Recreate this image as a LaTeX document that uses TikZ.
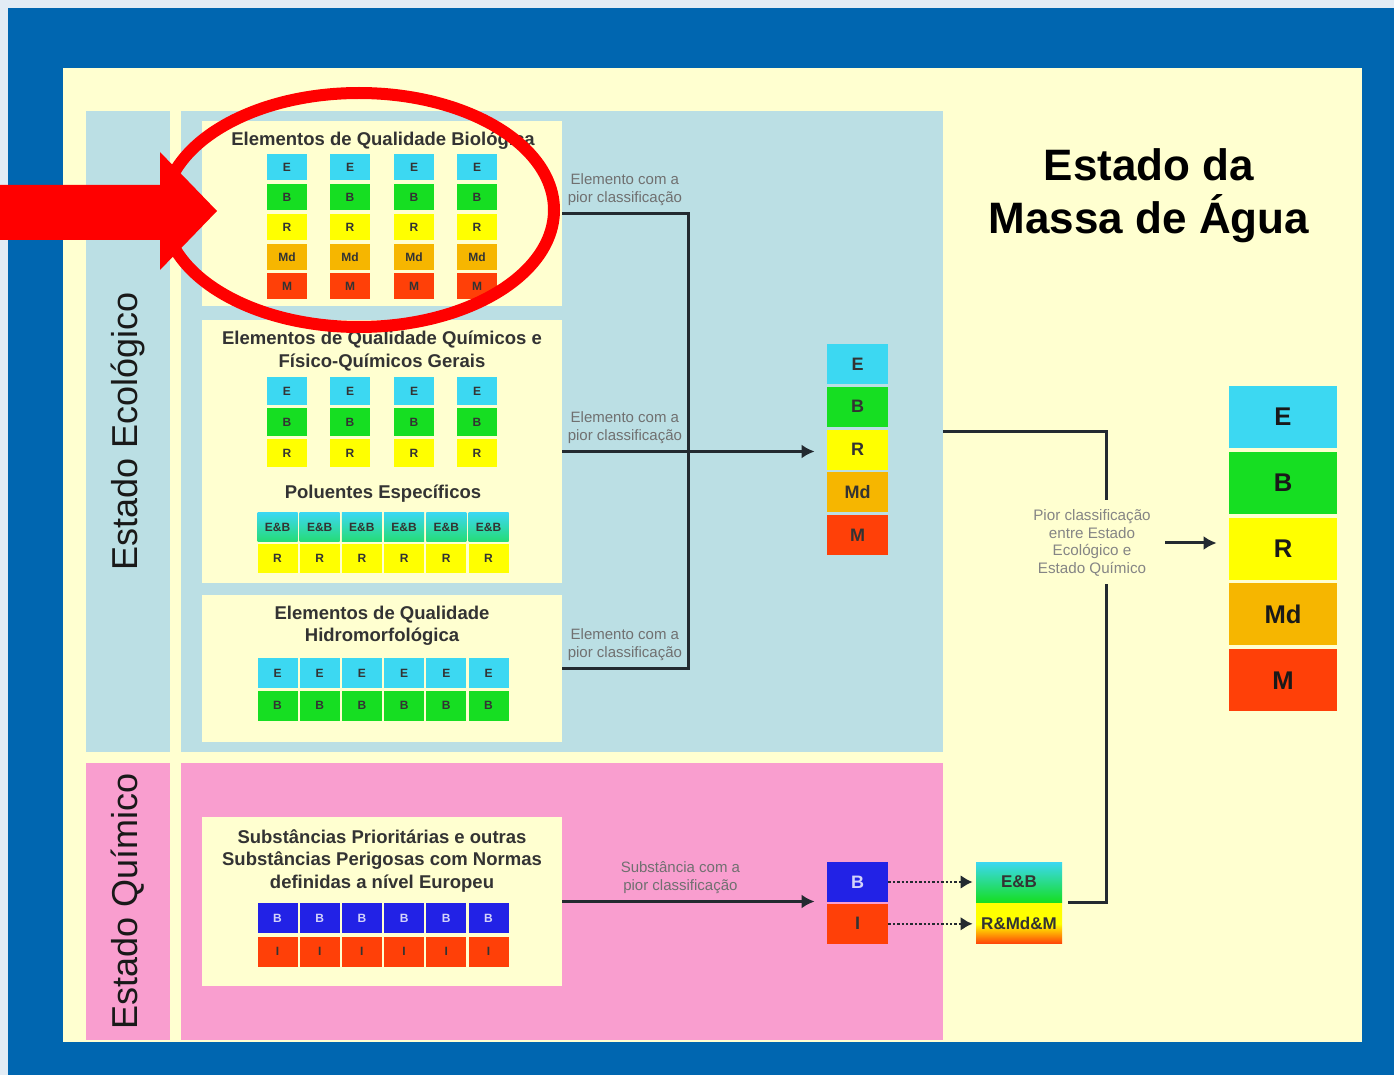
\documentclass[tikz,border=0pt]{standalone}
\usepackage{fontspec}
\setmainfont{Liberation Sans}
\usetikzlibrary{positioning,arrows.meta}
\definecolor{skyclr}{RGB}{226,236,245}
\definecolor{frameclr}{RGB}{0,102,176}
\definecolor{paperclr}{RGB}{255,255,208}
\definecolor{ecoclr}{RGB}{187,223,228}
\definecolor{quimclr}{RGB}{249,158,207}
\definecolor{eclr}{RGB}{60,216,242}
\definecolor{bclr}{RGB}{22,222,34}
\definecolor{rclr}{RGB}{255,255,0}
\definecolor{mdclr}{RGB}{246,182,0}
\definecolor{mclr}{RGB}{255,64,8}
\definecolor{boaclr}{RGB}{34,34,230}
\definecolor{lineclr}{RGB}{35,42,48}
\definecolor{noteclr}{RGB}{112,112,112}
\definecolor{markclr}{RGB}{255,0,0}
\tikzset{ %
  ,>={Latex[length=6.5pt,width=7pt]}
  ,area/.style={inner sep=0, minimum width=381pt}
  ,side/.style={inner sep=0, rotate=90, minimum height=42pt, font=\fontsize{18}{18}\selectfont, text=black!90}
  ,panel/.style={fill=paperclr, inner sep=0, minimum width=180pt}
  ,boxtitle/.style={align=center, inner sep=0, font=\bfseries\fontsize{9.25}{11.2}\selectfont, text=black!80}
  ,cell/.style={inner sep=0, minimum width=20pt, font=\bfseries\fontsize{6}{6}\selectfont, text=black!80}
  ,midcell/.style={cell, minimum width=30.5pt, minimum height=20pt, font=\bfseries\fontsize{9}{9}\selectfont}
  ,bigcell/.style={cell, minimum width=54pt, minimum height=31pt, font=\bfseries\fontsize{12.8}{13}\selectfont, text=black!90}
  ,note/.style={inner sep=0, align=center, font=\fontsize{7.5}{9}\selectfont, text=noteclr}
  ,conn/.style={draw=lineclr, line width=1.5pt}
  ,dotlink/.style={draw=lineclr, line width=1.2pt, densely dotted, -{Latex[length=6pt,width=7pt]}, shorten >=1.5pt}
}

\begin{document}
\begin{tikzpicture}[x=0.5pt,y=-0.5pt]
  \useasboundingbox (0,0) rectangle (1394,1075);
  \fill[skyclr] (0,0) rectangle (1394,1075);
  \fill[frameclr] (8,8) rectangle (1394,1075);
  \fill[paperclr] (63,68) rectangle (1362,1042);

  % the two states
  \node[side, fill=ecoclr, minimum width=320.5pt] (ecocol) at (128,431.5) {Estado Ecológico};
  \node[area, fill=ecoclr, minimum height=320.5pt] (ecoarea) at (562,431.5) {};
  \node[side, fill=quimclr, minimum width=138.5pt] (quimcol) at (128,901.5) {Estado Químico};
  \node[area, fill=quimclr, minimum height=138.5pt] (quimarea) at (562,901.5) {};

  % element boxes
  \node[panel, minimum height=92.5pt] (bio) at (382,213.5) {};
  \node[panel, minimum height=131.5pt] (fq) at (382,451.5) {};
  \node[panel, minimum height=73.5pt] (hidro) at (382,668.5) {};
  \node[panel, minimum height=84.5pt] (subst) at (382,901.5) {};
  \node[boxtitle] (biott) at (383,141) {Elementos de Qualidade Biológica};
  \node[boxtitle] (fqtt) at (382,351) {Elementos de Qualidade Químicos e\\Físico-Químicos Gerais};
  \node[boxtitle] (poltt) at (383,494) {Poluentes Específicos};
  \node[boxtitle] (hidtt) at (382,626) {Elementos de Qualidade\\Hidromorfológica};
  \node[boxtitle] (subtt) at (382,861) {Substâncias Prioritárias e outras\\Substâncias Perigosas com Normas\\definidas a nível Europeu};

  \foreach \c [count=\i] in {287,350,414,477}
    \foreach \t/\f/\y [count=\j] in {E/eclr/167,B/bclr/197,R/rclr/227,Md/mdclr/257,M/mclr/286}
      \node[cell, fill=\f, minimum height=13pt] (bio\i-\j) at (\c,\y) {\t};
  \foreach \c [count=\i] in {287,350,414,477}
    \foreach \t/\f/\y [count=\j] in {E/eclr/391,B/bclr/422.5,R/rclr/453}
      \node[cell, fill=\f, minimum height=14pt] (fq\i-\j) at (\c,\y) {\t};
  \foreach \c [count=\i] in {277.5,319.7,361.9,404.1,446.3,488.5}{
    \node[cell, minimum height=14.5pt, top color=eclr, bottom color=bclr!60!eclr] (pol\i-1) at (\c,527) {E\&B};
    \node[cell, minimum height=14.5pt, fill=rclr, below=0.75pt of pol\i-1] (pol\i-2) {R};
    \node[cell, minimum height=15pt, fill=eclr] (hid\i-1) at (\c,673) {E};
    \node[cell, minimum height=15pt, fill=bclr, below=1pt of hid\i-1] (hid\i-2) {B};
    \node[cell, minimum height=15pt, fill=boaclr, text=white!80!boaclr] (sub\i-1) at (\c,918) {B};
    \node[cell, minimum height=15pt, fill=mclr, below=1.5pt of sub\i-1] (sub\i-2) {I};
  }

  % ecological state
  \node[midcell, fill=eclr] (mE) at (857.5,364) {E};
  \node[midcell, fill=bclr, below=1pt of mE] (mB) {B};
  \node[midcell, fill=rclr, below=1pt of mB] (mR) {R};
  \node[midcell, fill=mdclr, below=1pt of mR] (mMd) {Md};
  \node[midcell, fill=mclr, below=1pt of mMd] (mM) {M};

  % chemical state
  \node[midcell, fill=boaclr, text=white!80!boaclr] (qB) at (857.5,882) {B};
  \node[midcell, fill=mclr, below=0.5pt of qB] (qI) {I};
  \node[midcell, minimum width=43pt, top color=eclr, bottom color=bclr, font=\bfseries\fontsize{8.5}{9}\selectfont] (eb) at (1019,882) {E\&B};
  \node[midcell, minimum width=43pt, top color=rclr, bottom color=mclr, middle color=rclr, font=\bfseries\fontsize{8.5}{9}\selectfont, below=0.5pt of eb] (rmm) {R\&Md\&M};

  % water body
  \node[font=\bfseries\fontsize{22}{26.5}\selectfont, align=center, inner sep=0] (title) at (1149,196) {Estado da\\Massa de Água};
  \node[bigcell, fill=eclr] (fE) at (1283,417) {E};
  \node[bigcell, fill=bclr, below=1.5pt of fE] (fB) {B};
  \node[bigcell, fill=rclr, below=1.5pt of fB] (fR) {R};
  \node[bigcell, fill=mdclr, below=1.5pt of fR] (fMd) {Md};
  \node[bigcell, fill=mclr, below=1.5pt of fMd] (fM) {M};

  \node[note, above right=3.5pt and 2.5pt of bio.east] (bionote) {Elemento com a\\pior classificação};
  \node[note, above right=3.5pt and 2.5pt of fq.east] (fqnote) {Elemento com a\\pior classificação};
  \node[note, above right=3.5pt and 2.5pt of hidro.east] (hidnote) {Elemento com a\\pior classificação};
  \node[note, above right=3.5pt and 29pt of subst.east] (subnote) {Substância com a\\pior classificação};
  \node[note, text=noteclr!85, font=\fontsize{7.6}{8.75}\selectfont] (pior) at (1092,543) {Pior classificação\\entre Estado\\Ecológico e\\Estado Químico};

  \coordinate (bend) at (688,451.5);
  \coordinate (ptop) at (1106,500);
  \coordinate (pbot) at (1106,584);
  \draw[conn] (bio.east) -| (bend) |- (hidro.east);
  \draw[conn,->,shorten >=6pt] (fq.east) -- (fq.east -| mR.west);
  \draw[conn,->,shorten >=6pt] (subst.east) -- (subst.east -| qB.west);
  \draw[dotlink] (qB) -- (eb);
  \draw[dotlink] (qI) -- (rmm);
  \draw[conn] (ecoarea.east) -| (ptop);
  \draw[conn] ([xshift=3pt]eb.south east) -| (pbot);
  \draw[conn,->,shorten <=7pt,shorten >=6pt] (pior.east) -- (pior.east -| fR.west);

  % highlight
  \fill[markclr] (0,185) -- (160,185) -- (160,152) -- (217,211) -- (160,270) -- (160,240) -- (0,240) -- cycle;
  \draw[markclr, line width=6pt] (359,210) ellipse [x radius=97.5pt, y radius=58.5pt];
\end{tikzpicture}
\end{document}
